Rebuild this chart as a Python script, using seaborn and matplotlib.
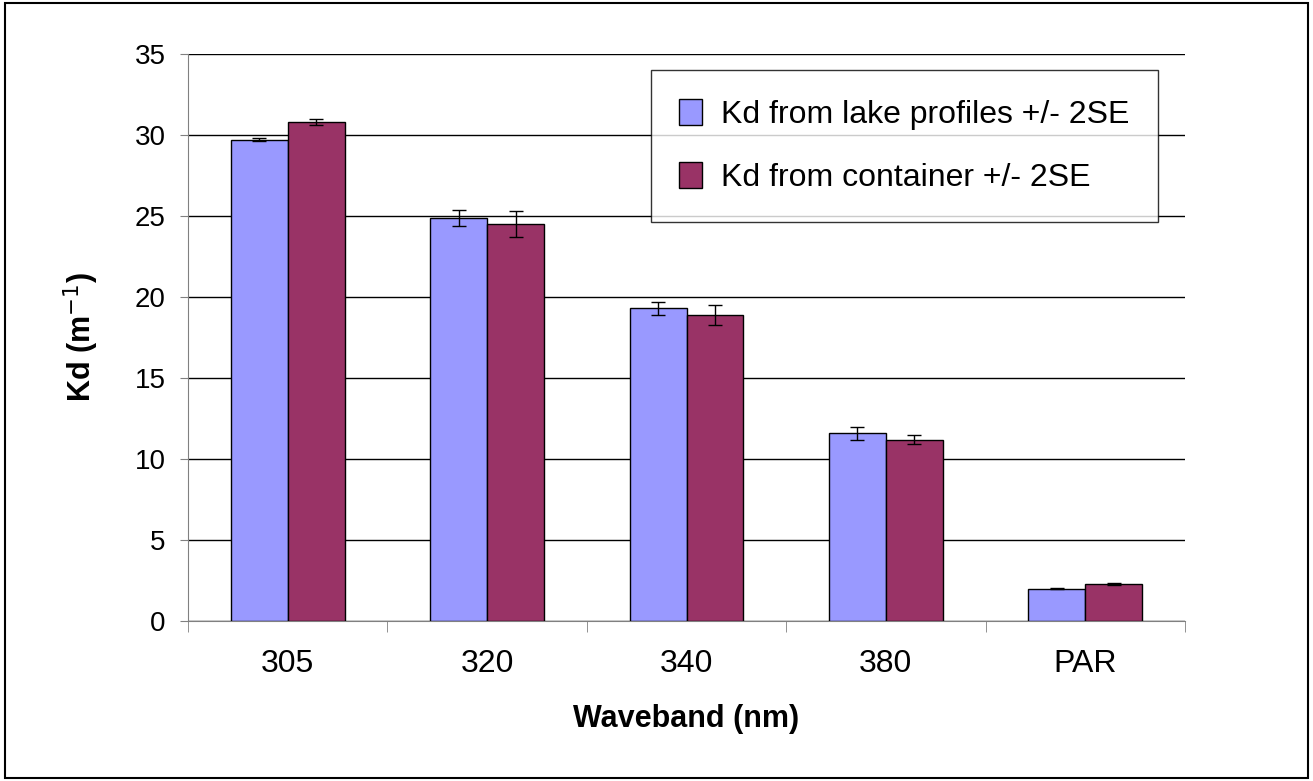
import matplotlib
matplotlib.use("Agg")
import matplotlib.pyplot as plt
import seaborn as sns
import pandas as pd
import numpy as np

wavebands = ["305", "320", "340", "380", "PAR"]
lake_kd = [29.7, 24.9, 19.3, 11.6, 2.0]
lake_err = [0.1, 0.5, 0.4, 0.4, 0.05]
container_kd = [30.8, 24.5, 18.9, 11.2, 2.3]
container_err = [0.2, 0.8, 0.6, 0.3, 0.05]
series = ["Kd from lake profiles +/- 2SE", "Kd from container +/- 2SE"]

df = pd.DataFrame({
    "band": wavebands * 2,
    "kd": lake_kd + container_kd,
    "err": lake_err + container_err,
    "series": [series[0]] * 5 + [series[1]] * 5,
})

sns.set_style("white")
plt.rcParams["font.family"] = ["Liberation Sans", "DejaVu Sans"]
plt.rcParams["text.color"] = "black"
plt.rcParams["axes.labelcolor"] = "black"
plt.rcParams["xtick.color"] = "black"
plt.rcParams["ytick.color"] = "black"

fig = plt.figure(figsize=(13.13, 7.81), dpi=100)
ax = fig.add_axes([188 / 1313, 1 - 621 / 781, 997 / 1313, 567 / 781])
sns.barplot(data=df, x="band", y="kd", hue="series", palette=["#9999ff", "#993366"],
            saturation=1, width=0.57, edgecolor="black", linewidth=1, errorbar=None,
            ax=ax, zorder=3)

# error bars on bar centres, in hue order
for cont, s in zip(ax.containers, series):
    sub = df[df.series == s]
    xs = [p.get_x() + p.get_width() / 2 for p in cont.patches]
    ax.errorbar(xs, sub.kd, yerr=sub.err, fmt="none", ecolor="black",
                elinewidth=1, capsize=5, capthick=1, zorder=4)

ax.set_ylim(0, 35)
ax.set_xlim(-0.5, 4.5)
ax.set_yticks(range(0, 36, 5))
ax.yaxis.grid(True, color="black", linewidth=1)
ax.set_axisbelow(True)
for sp in ["top", "right"]:
    ax.spines[sp].set_visible(False)
for sp in ["left", "bottom"]:
    ax.spines[sp].set_color("#808080")
ax.set_xticks(np.arange(-0.5, 5, 1), minor=True)
ax.tick_params(axis="x", which="major", length=0, labelsize=23, pad=20)
ax.tick_params(axis="x", which="minor", length=8, color="#808080", direction="out", bottom=True)
ax.tick_params(axis="y", length=6, color="#808080", direction="out", left=True, labelsize=20, pad=10)
ax.set_xlabel("Waveband (nm)", fontsize=22, fontweight="bold", labelpad=18)
ax.set_ylabel("Kd (m$^{-1}$)", fontsize=22, fontweight="bold", labelpad=24)

leg = ax.legend(loc="upper right", bbox_to_anchor=((1158 - 188) / 997, 1 - 16 / 567),
                borderaxespad=0, frameon=True, fancybox=False, edgecolor="black",
                fontsize=23, handlelength=0.7, handleheight=0.9, labelspacing=1.0,
                borderpad=0.9, handletextpad=0.6)
leg.get_frame().set_linewidth(1)

fig.patches.append(plt.Rectangle((0.004, 0.004), 0.992, 0.992, transform=fig.transFigure,
                                 fill=False, edgecolor="black", linewidth=1.5))
fig.savefig("out.png", dpi=100)
